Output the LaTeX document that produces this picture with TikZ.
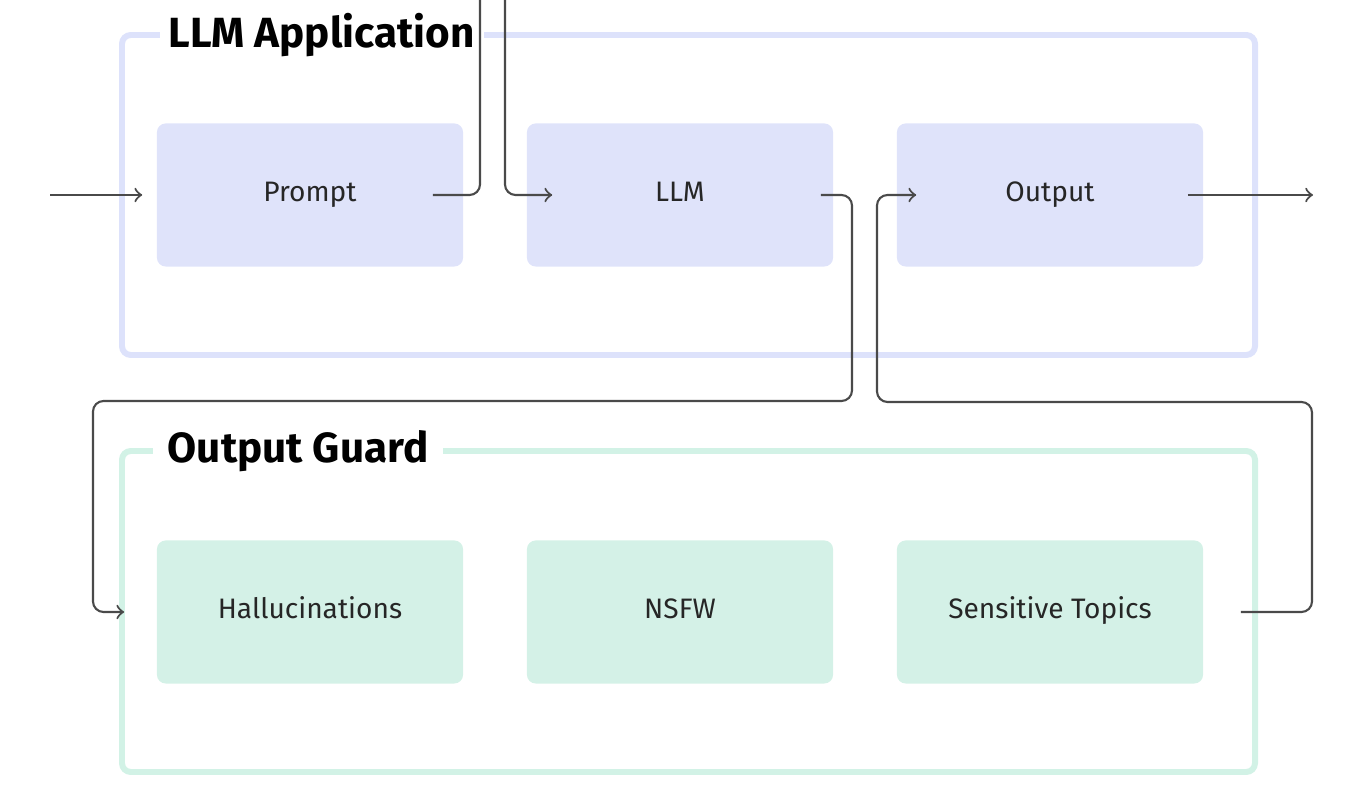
\documentclass[tikz,border=0pt]{standalone}
\usepackage{fontspec}
\setmainfont{Fira Sans}
\usetikzlibrary{positioning}
\definecolor{appline}{HTML}{DDE2FB}
\definecolor{appfill}{HTML}{DFE3FA}
\definecolor{guardline}{HTML}{D2F2E6}
\definecolor{guardfill}{HTML}{D4F1E7}
\definecolor{wirecol}{HTML}{4A4A4A}
\tikzset{
  stagebox/.style={rounded corners=2.5pt, minimum width=3.06cm, minimum height=1.43cm,
    text height=1.4ex, text depth=0.65ex,
    font=\fontsize{8}{10}\selectfont, text=black!85},
  appbox/.style={stagebox, fill=appfill},
  guardbox/.style={stagebox, fill=guardfill},
  frame/.style={line width=1.7pt, rounded corners=2.5pt},
  frametitle/.style={fill=white, anchor=west, inner xsep=0.09cm,
    font=\bfseries\fontsize{12}{14}\selectfont},
  wire/.style={draw=wirecol, line width=0.6pt, rounded corners=3pt},
}
\begin{document}
\begin{tikzpicture}[x=0.01cm, y=-0.01cm]
\useasboundingbox (0,0) rectangle (1360,810);
% LLM application
\draw[frame, appline] (122,35) rectangle (1255,355);
\node[frametitle] (apptitle) at (159,35) {LLM Application};
\node[appbox] (prompt) at (310,195) {Prompt};
\node[appbox] (llm) at (680,195) {LLM};
\node[appbox] (out) at (1050,195) {Output};
% output guard
\draw[frame, guardline] (122,451) rectangle (1255,772);
\node[frametitle, inner xsep=0.15cm] (guardtitle) at (152,451) {Output Guard};
\node[guardbox] (hall) at (310,612) {Hallucinations};
\node[guardbox] (nsfw) at (680,612) {NSFW};
\node[guardbox] (sens) at (1050,612) {Sensitive Topics};
% connectors
\coordinate (src) at (50,195);
\coordinate (sink) at (1313,195);
\coordinate (up) at (480,0);
\coordinate (down) at (505,0);
\coordinate (turnL) at (852,401);
\coordinate (loopL) at (93,401);
\coordinate (turnR) at (1312,402);
\coordinate (loopR) at (877,402);
\draw[wire,->] (src) -- ([xshift=-0.14cm]prompt.west);
\draw[wire] ([xshift=-0.31cm]prompt.east) -| (up);
\draw[wire,->] (down) |- ([xshift=0.26cm]llm.west);
\draw[wire,->] ([xshift=-0.13cm]llm.east) -| (turnL) -- (loopL) |- ([xshift=-0.32cm]hall.west);
\draw[wire,->] ([xshift=0.37cm]sens.east) -| (turnR) -- (loopR) |- ([xshift=0.2cm]out.west);
\draw[wire,->] ([xshift=-0.16cm]out.east) -- (sink);
\end{tikzpicture}
\end{document}
